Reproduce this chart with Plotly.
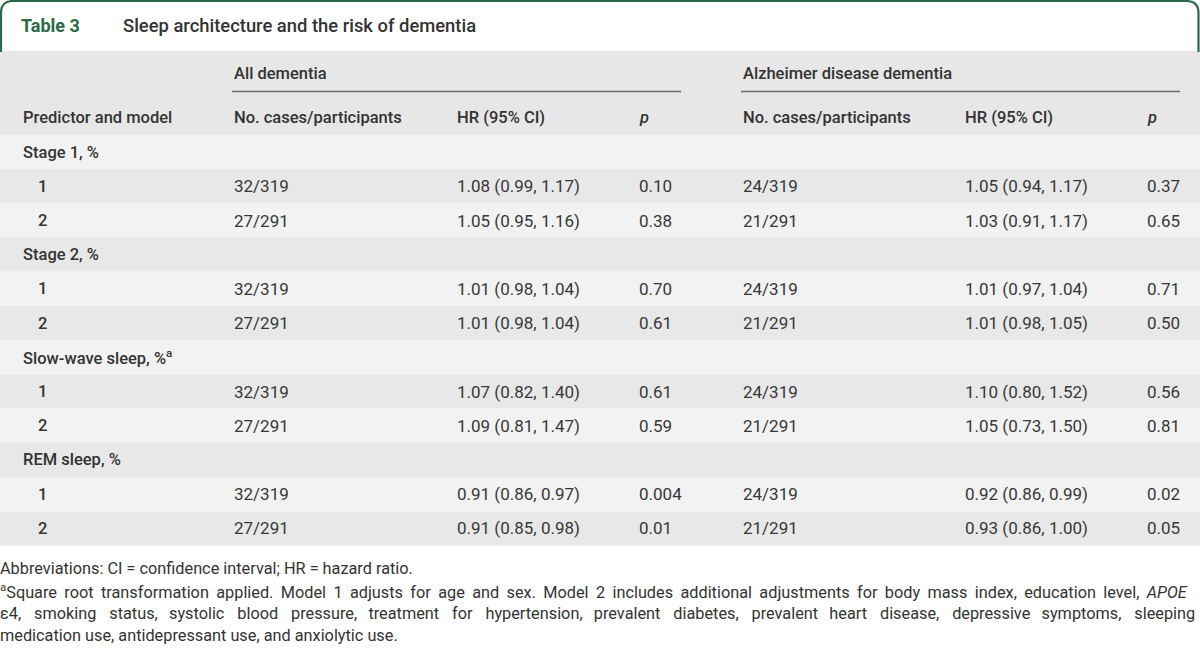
import plotly.graph_objects as go

# ---------------- data ----------------
title_label = "Table 3"
title_text = "Sleep architecture and the risk of dementia"
group_headers = ["All dementia", "Alzheimer disease dementia"]
col_headers = ["Predictor and model", "No. cases/participants", "HR (95% CI)", "<i>p</i>",
               "No. cases/participants", "HR (95% CI)", "<i>p</i>"]
predictors = ["Stage 1, %", "Stage 2, %", "Slow-wave sleep, %<sup>a</sup>", "REM sleep, %"]
models = ["1", "2"]
all_cases = [32, 27]
all_participants = [319, 291]
ad_cases = [24, 21]
ad_participants = [319, 291]
all_hr = [1.08, 1.05, 1.01, 1.01, 1.07, 1.09, 0.91, 0.91]
all_lo = [0.99, 0.95, 0.98, 0.98, 0.82, 0.81, 0.86, 0.85]
all_hi = [1.17, 1.16, 1.04, 1.04, 1.40, 1.47, 0.97, 0.98]
all_p = ["0.10", "0.38", "0.70", "0.61", "0.61", "0.59", "0.004", "0.01"]
ad_hr = [1.05, 1.03, 1.01, 1.01, 1.10, 1.05, 0.92, 0.93]
ad_lo = [0.94, 0.91, 0.97, 0.98, 0.80, 0.73, 0.86, 0.86]
ad_hi = [1.17, 1.17, 1.04, 1.05, 1.52, 1.50, 0.99, 1.00]
ad_p = ["0.37", "0.65", "0.71", "0.50", "0.56", "0.81", "0.02", "0.05"]
footnotes = [
    "Abbreviations: CI = confidence interval; HR = hazard ratio.",
    "<sup>a</sup>Square root transformation applied. Model 1 adjusts for age and sex. Model 2 includes additional adjustments for body mass index, education level, <i>APOE</i>",
    "ε4, smoking status, systolic blood pressure, treatment for hypertension, prevalent diabetes, prevalent heart disease, depressive symptoms, sleeping",
    "medication use, antidepressant use, and anxiolytic use.",
]
# extra word spacing (per gap, cycled) for the justified lines of the footnote paragraph
footnote_gap = [[""], ["\u2009"], ["\u2004\u200a\u200a", "\u2004\u200a\u200a", "\u2004\u200a"], [""]]

# ---------------- layout constants ----------------
W, H = 1200, 651
GREEN = "#2c6b48"
TXT = "#383838"
HEAD_BG = "#e6e7e6"
ROW_LIGHT = "#f2f2f2"
ROW_DARK = "#e7e8e7"
COL_X = [21, 232, 455, 637, 741, 963, 1145]
MODEL_X = 36
HEAD_TOP, HEAD_BOT = 51, 135
ROW_H = 34.2

hfont = dict(family="Roboto", size=16.5, color="#333333", weight=500)
bfont = dict(family="Roboto", size=17, color=TXT)
ffont = dict(family="Roboto", size=16.3, color="#333333")

fig = go.Figure()
shapes = []
ann = []


def text(x, y, s, font, anchor="left", xshift=0):
    ann.append(dict(x=x, y=y, xref="x", yref="y", text=s, showarrow=False,
                    xanchor=anchor, yanchor="middle", align="left", font=font, xshift=xshift))


def spread(line, gaps):
    words = line.split(" ")
    out = words[0]
    for j, w in enumerate(words[1:]):
        out += " " + gaps[j % len(gaps)] + w
    return out


# title box
shapes.append(dict(type="path", xref="x", yref="y",
                   path="M 1,52 L 1,13 Q 1,1 13,1 L 1186,1 Q 1198.5,1 1198.5,13 L 1198.5,52",
                   line=dict(color=GREEN, width=2.2)))
text(19, 25, "<b>" + title_label + "</b>", dict(family="Roboto", size=18, color=GREEN, weight=600))
text(121, 25, title_text, dict(family="Roboto", size=18.4, color="#333333", weight=500))

# header band
shapes.append(dict(type="rect", xref="x", yref="y", x0=0, x1=W, y0=HEAD_TOP, y1=HEAD_BOT,
                   fillcolor=HEAD_BG, line=dict(width=0), layer="below"))
text(COL_X[1], 73, group_headers[0], hfont)
text(COL_X[4], 73, group_headers[1], hfont)
shapes.append(dict(type="line", xref="x", yref="y", x0=232, x1=681, y0=91.5, y1=91.5,
                   line=dict(color="#6a6a6a", width=1.6)))
shapes.append(dict(type="line", xref="x", yref="y", x0=741, x1=1180, y0=91.5, y1=91.5,
                   line=dict(color="#6a6a6a", width=1.6)))
for x, h in zip(COL_X, col_headers):
    text(x, 117, h, hfont)

# body rows
r = 0
k = 0
for g, pred in enumerate(predictors):
    y0 = HEAD_BOT + r * ROW_H
    shapes.append(dict(type="rect", xref="x", yref="y", x0=0, x1=W, y0=y0, y1=y0 + ROW_H,
                       fillcolor=ROW_LIGHT if r % 2 == 0 else ROW_DARK, line=dict(width=0), layer="below"))
    text(COL_X[0], y0 + ROW_H / 2, pred, hfont)
    r += 1
    for m, model in enumerate(models):
        y0 = HEAD_BOT + r * ROW_H
        yc = y0 + ROW_H / 2
        shapes.append(dict(type="rect", xref="x", yref="y", x0=0, x1=W, y0=y0, y1=y0 + ROW_H,
                           fillcolor=ROW_LIGHT if r % 2 == 0 else ROW_DARK, line=dict(width=0), layer="below"))
        text(MODEL_X, yc, model, hfont)
        text(COL_X[1], yc, f"{all_cases[m]}/{all_participants[m]}", bfont)
        text(COL_X[2], yc, f"{all_hr[k]:.2f} ({all_lo[k]:.2f}, {all_hi[k]:.2f})", bfont)
        text(COL_X[3], yc, all_p[k], bfont)
        text(COL_X[4], yc, f"{ad_cases[m]}/{ad_participants[m]}", bfont)
        text(COL_X[5], yc, f"{ad_hr[k]:.2f} ({ad_lo[k]:.2f}, {ad_hi[k]:.2f})", bfont)
        text(COL_X[6], yc, ad_p[k], bfont)
        r += 1
        k += 1

# footnotes
for i, line in enumerate(footnotes):
    text(0, 568 + i * 22.6, spread(line, footnote_gap[i]), ffont, xshift=-2)

fig.update_layout(
    width=W, height=H, margin=dict(l=0, r=0, t=0, b=0),
    paper_bgcolor="white", plot_bgcolor="white",
    xaxis=dict(range=[0, W], visible=False, fixedrange=True),
    yaxis=dict(range=[H, 0], visible=False, fixedrange=True),
    shapes=shapes, annotations=ann, showlegend=False,
)
fig.write_html("out.html", config={"displayModeBar": False},
               post_script="document.body.style.margin='0';document.body.style.overflow='hidden';")
